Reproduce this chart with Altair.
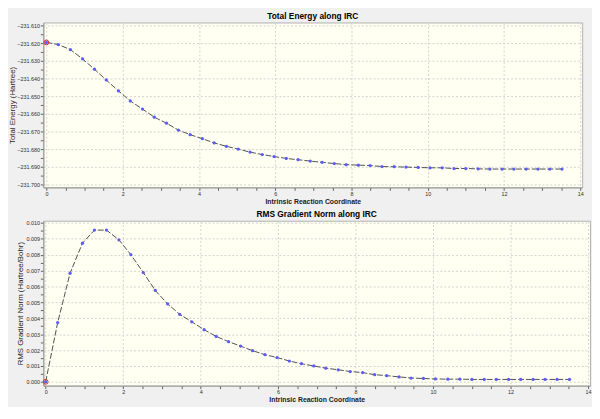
import altair as alt
import pandas as pd

# ---- data ----
irc = [0.00, 0.31, 0.63, 0.95, 1.26, 1.57, 1.89, 2.20, 2.52, 2.83, 3.15, 3.46, 3.77,
       4.09, 4.40, 4.72, 5.03, 5.34, 5.66, 5.97, 6.29, 6.60, 6.92, 7.23, 7.55, 7.86,
       8.18, 8.49, 8.80, 9.12, 9.43, 9.75, 10.06, 10.38, 10.69, 11.00, 11.32, 11.63,
       11.95, 12.26, 12.58, 12.89, 13.20, 13.52]

energy = [-231.6195, -231.6207, -231.6236, -231.6289, -231.6347, -231.6408, -231.6470,
          -231.6527, -231.6573, -231.6619, -231.6653, -231.6692, -231.6718, -231.6741,
          -231.6765, -231.6784, -231.6800, -231.6817, -231.6831, -231.6842, -231.6853,
          -231.6860, -231.6868, -231.6875, -231.6882, -231.6888, -231.6891, -231.6893,
          -231.6899, -231.6900, -231.6902, -231.6904, -231.6906, -231.6906, -231.6910,
          -231.6910, -231.6912, -231.6913, -231.6913, -231.6913, -231.6913, -231.6913,
          -231.6913, -231.6913]

gradient = [0.00000, 0.00373, 0.00684, 0.00873, 0.00955, 0.00955, 0.00894, 0.00800,
            0.00688, 0.00575, 0.00490, 0.00425, 0.00378, 0.00328, 0.00286, 0.00253,
            0.00225, 0.00196, 0.00171, 0.00153, 0.00131, 0.00114, 0.00100, 0.00086,
            0.00076, 0.00065, 0.00058, 0.00045, 0.00039, 0.00031, 0.00024, 0.00021,
            0.00018, 0.00017, 0.00017, 0.00015, 0.00015, 0.00015, 0.00015, 0.00015,
            0.00015, 0.00015, 0.00015, 0.00015]

x_ticks = [0.0, 0.5, 1.0, 1.5, 2.0, 2.5, 3.0, 3.5, 4.0, 4.5, 5.0, 5.5, 6.0, 6.5, 7.0,
           7.5, 8.0, 8.5, 9.0, 9.5, 10.0, 10.5, 11.0, 11.5, 12.0, 12.5, 13.0, 13.5, 14.0]
energy_ticks = [-231.700, -231.695, -231.690, -231.685, -231.680, -231.675, -231.670,
                -231.665, -231.660, -231.655, -231.650, -231.645, -231.640, -231.635,
                -231.630, -231.625, -231.620, -231.615, -231.610]
grad_ticks = [0.0000, 0.0005, 0.0010, 0.0015, 0.0020, 0.0025, 0.0030, 0.0035, 0.0040,
              0.0045, 0.0050, 0.0055, 0.0060, 0.0065, 0.0070, 0.0075, 0.0080, 0.0085,
              0.0090, 0.0095, 0.0100]

df = pd.DataFrame({"irc": irc, "energy": energy, "gradient": gradient})

FONT = "Liberation Sans"
LINE_COL = "#505050"
PT_COL = "#5c5cf5"
TS_COL = "#e02828"

X_MAJOR = "round(datum.value * 2) % 4 === 0"
E_MAJOR = "abs(round(datum.value * 1000)) % 10 === 0"
G_MAJOR = "round(datum.value * 10000) % 10 === 0"


def x_axis():
    return alt.Axis(
        values=x_ticks,
        labelExpr=f"{X_MAJOR} ? format(datum.value, 'd') : ''",
        gridOpacity={"condition": {"test": X_MAJOR, "value": 1}, "value": 0},
        tickSize=3, labelPadding=1, labelFontSize=5.5, labelOverlap=False, labelFlush=False,
        title="Intrinsic Reaction Coordinate", titleFontSize=7, titleFontWeight="bold",
        titlePadding=1, titleColor="#202020",
    )


def panel(field, y_axis, y_domain, x_domain, title, w, h):
    base = alt.Chart(df).encode(
        x=alt.X("irc:Q", scale=alt.Scale(domain=x_domain, nice=False, zero=False), axis=x_axis()),
        y=alt.Y(f"{field}:Q", scale=alt.Scale(domain=y_domain, nice=False, zero=False), axis=y_axis),
    )
    line = base.mark_line(color=LINE_COL, strokeWidth=1, strokeDash=[6, 2])
    pts = base.mark_circle(color=PT_COL, size=11, opacity=1)
    ts = base.transform_filter("datum.irc === 0").mark_point(
        shape="circle", color=TS_COL, size=24, strokeWidth=1, filled=False, opacity=1)
    return alt.layer(line, pts, ts).properties(
        width=w, height=h,
        title=alt.TitleParams(title, fontSize=8.5, fontWeight="bold", offset=2,
                              anchor="middle", frame="group", color="#000000", font=FONT),
    )


energy_axis = alt.Axis(
    values=energy_ticks,
    labelExpr=f"{E_MAJOR} ? format(datum.value, '.3f') : ''",
    gridOpacity={"condition": {"test": E_MAJOR, "value": 1}, "value": 0},
    tickSize=3, labelPadding=1, labelFontSize=5.5, labelOverlap=False,
    minExtent=26, maxExtent=26,
    title="Total Energy (Hartree)", titleFontSize=8, titleFontWeight="normal",
    titlePadding=1, titleColor="#3a2020",
)

grad_axis = alt.Axis(
    values=grad_ticks,
    labelExpr=f"{G_MAJOR} ? format(datum.value, '.3f') : ''",
    gridOpacity={"condition": {"test": G_MAJOR, "value": 1}, "value": 0},
    tickSize=3, labelPadding=1, labelFontSize=5.5, labelOverlap=False,
    minExtent=18, maxExtent=18,
    title="RMS Gradient Norm (Hartree/Bohr)", titleFontSize=8, titleFontWeight="normal",
    titlePadding=1, titleColor="#202020",
)

top = panel("energy", energy_axis, [-231.7017, -231.6082], [-0.08, 14.05],
            "Total Energy along IRC", 549, 168)
bottom = panel("gradient", grad_axis, [-0.00024, 0.01014], [-0.06, 14.05],
               "RMS Gradient Norm along IRC", 557, 168)

chart = alt.vconcat(top, bottom, spacing=5).properties(
    padding={"left": 0, "top": 0, "right": 0, "bottom": 0},
    background="#f0f0f0",
).configure_view(
    fill="#fffff2", stroke="#b0b0b0", strokeWidth=1,
).configure_axis(
    labelFont=FONT, titleFont=FONT, labelColor="#303030",
    domainColor="#9a9a9a", tickColor="#606060",
    gridColor="#d2d2d2", gridDash=[2, 2], gridWidth=1,
)

chart.save("out.html", embed_options={"renderer": "svg", "actions": False})
